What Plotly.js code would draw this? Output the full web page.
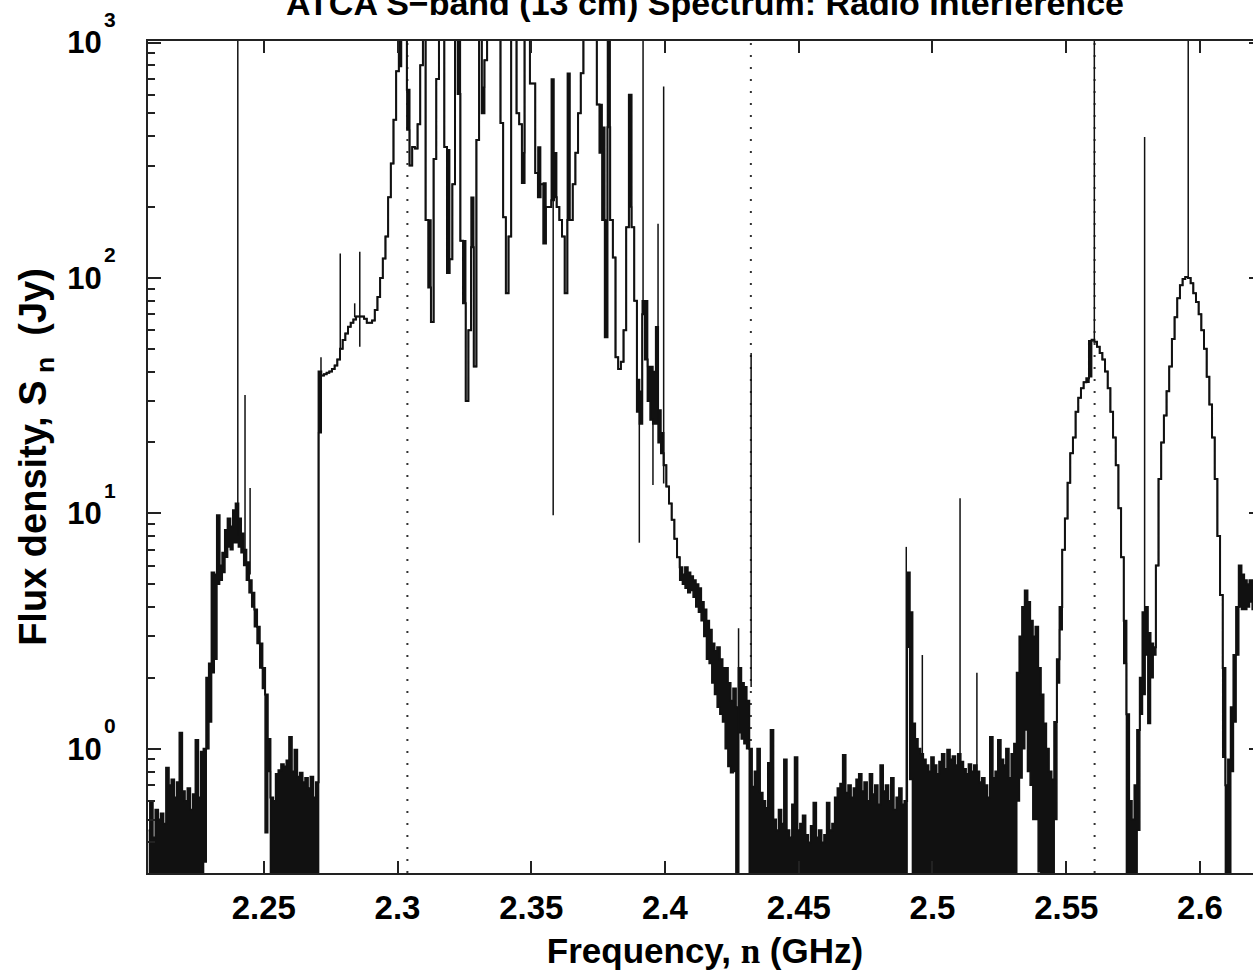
<!DOCTYPE html>
<html><head><meta charset="utf-8">
<script src="https://cdn.plot.ly/plotly-3.0.1.min.js"></script>
<style>html,body{margin:0;padding:0;overflow:hidden;background:#fff;width:1253px;height:976px}#chart{width:1280px;height:976px}</style>
</head><body><div id="chart"></div>
<script>
// Channel grid of the spectrum (GHz)
const chanStartGHz = 2.207;
const chanWidthGHz = 0.001;

// Flux density per channel (Jy), 2.207 ... 2.623 GHz
const flux = [
 0.45,0.6,0.42,0.55,0.5,0.53,0.48,0.83,0.7,0.74,
 0.62,0.72,1.17,0.66,0.6,0.68,0.55,0.64,1.09,0.62,
 0.97,1.0,2.0,2.3,5.6,5.5,9.8,6.0,6.8,8.5,
 9.5,8.8,10.3,11,9.5,8.2,7.0,6.2,5.2,4.6,
 3.9,3.3,2.8,2.2,1.7,1.1,0.62,0.6,0.78,0.81,
 0.86,0.84,0.89,1.12,0.8,0.99,0.76,0.79,0.72,0.75,
 0.68,0.76,0.62,0.72,40,38.5,39,39.5,40,41,
 42.5,45,50,54.5,58,62,64.5,66.5,68.6,68.6,
 68.6,67,64.5,64.5,66,73,83,100,121,150,
 220,306,470,755,2000,2000,2000,630,300,360,
 355,450,800,2000,176,91,65,320,700,2000,
 2000,360,105,120,250,2000,605,144,78,30,
 60,135,42,385,1500,500,840,2000,2000,2000,
 2000,2000,455,181,86,150,2000,2000,500,450,
 253,2000,2000,670,670,279,220,250,140,200,
 200,214,220,200,176,150,86,176,176,250,
 340,500,740,2000,2000,2000,2000,2000,545,340,
 176,56,437,176,122,46,41,44,60,164,
 600,164,80,27,24,70,45,30,25,24,
 24,20,18,16,13,11,9.4,7.8,6.5,5.9,
 5.5,5.9,5.6,5.4,5.2,5.0,4.8,4.2,3.9,3.5,
 3.2,2.8,2.6,2.7,2.4,2.2,2.2,1.9,1.6,1.8,
 1.5,2.2,1.9,1.83,1.6,1.0,0.69,0.8,1.0,0.65,
 0.6,0.56,0.87,1.2,0.5,0.45,0.55,0.48,0.9,0.45,
 0.42,0.58,0.92,0.45,0.48,0.52,0.43,0.4,0.47,0.59,
 0.42,0.45,0.4,0.43,0.59,0.45,0.48,0.62,0.68,0.71,
 0.94,0.65,0.7,0.62,0.68,0.74,0.78,0.66,0.72,0.6,
 0.78,0.64,0.7,0.58,0.85,0.66,0.7,0.6,0.75,0.55,
 0.62,0.68,0.58,0.6,5.6,3.8,1.28,1.1,1.0,0.95,
 0.9,0.85,0.8,0.92,0.85,0.78,0.88,0.95,0.82,0.99,
 0.9,0.93,0.85,0.95,0.88,0.82,0.78,0.86,0.8,0.85,
 0.8,0.72,0.75,0.7,0.62,1.12,0.75,0.8,1.09,0.9,
 0.85,1.0,0.75,0.95,1.05,2.1,3.0,4.0,4.7,4.2,
 3.5,3.0,3.3,2.2,1.7,1.28,1.0,0.8,0.74,1.3,
 2.4,4.0,7.0,9.5,13.5,18,21,27,31,34,
 36,37.5,54,54.6,53.5,51,48,45,40,34,
 27,21,16,10.5,6.5,3.5,1.4,0.6,0.5,0.7,
 1.2,2.0,3.8,4.0,3.1,2.8,2.7,6,14,20,
 26,33,42,55,68,82,93,99,101,100,
 95,86,79,70,60,50,38,29,21,14,
 8,4.5,2.2,0.7,0.9,1.5,2.5,4.0,6.0,5.5,
 5.2,5.0,5.2,5.0,5.3,5.1,5.0
];

// Lower edge of the channel's noise band (Jy); null = no spread
const N = null;
const fluxMin = [
 0.1,0.1,0.1,0.1,0.1,0.1,0.1,0.1,0.1,0.1,
 0.1,0.1,0.1,0.1,0.1,0.1,0.1,0.1,0.1,0.1,
 0.1,0.33,1.0,1.3,2.1,2.4,5.0,5.2,5.6,6.5,
 7.2,7.0,7.5,7.5,7.2,6.8,6.0,5.2,4.6,4.0,
 3.3,2.8,2.2,1.8,0.44,0.8,0.1,0.1,0.1,0.1,
 0.1,0.1,0.1,0.1,0.1,0.1,0.1,0.1,0.1,0.1,
 0.1,0.1,0.1,0.1,22,N,N,N,N,N,
 N,N,N,N,N,N,N,N,N,N,
 N,N,N,N,N,N,N,N,N,N,
 N,N,N,N,790,N,N,425,N,N,
 N,N,N,N,N,176,N,N,N,N,
 N,N,350,N,N,N,2000,N,144,N,
 N,220,N,N,N,645,N,N,N,N,
 N,N,N,N,N,N,N,N,N,N,
 340,N,N,N,N,N,360,N,253,N,
 N,700,340,N,N,N,N,740,N,N,
 N,N,N,N,N,N,N,N,N,545,
 437,176,2000,N,N,N,N,N,N,N,
 200,N,N,37,33,80,80,42,42,40,
 62,27.5,22,N,N,N,N,N,N,5.2,
 5.0,4.8,4.6,4.7,4.4,4.0,3.8,3.5,3.0,2.4,
 2.3,1.9,1.7,1.5,1.4,1.3,1.0,0.84,0.79,0.8,
 0.1,1.17,1.1,1.05,1.0,0.1,0.1,0.1,0.1,0.1,
 0.1,0.1,0.1,0.1,0.1,0.1,0.1,0.1,0.1,0.1,
 0.1,0.1,0.1,0.1,0.1,0.1,0.1,0.1,0.1,0.1,
 0.1,0.1,0.1,0.1,0.1,0.1,0.1,0.1,0.1,0.1,
 0.1,0.1,0.1,0.1,0.1,0.1,0.1,0.1,0.1,0.1,
 0.1,0.1,0.1,0.1,0.1,0.1,0.1,0.1,0.1,0.1,
 0.1,0.1,0.1,0.1,2.7,0.74,0.1,0.1,0.1,0.1,
 0.1,0.1,0.1,0.1,0.1,0.1,0.1,0.1,0.1,0.1,
 0.1,0.1,0.1,0.1,0.1,0.1,0.1,0.1,0.1,0.1,
 0.1,0.1,0.1,0.1,0.1,0.1,0.1,0.1,0.1,0.1,
 0.1,0.1,0.1,0.1,0.1,0.6,0.75,1.0,1.2,0.8,
 0.7,0.5,0.5,0.3,0.1,0.1,0.1,0.1,0.1,0.5,
 1.9,3.2,N,N,N,N,N,N,N,N,
 N,36,38,N,N,N,N,N,N,N,
 N,N,N,N,N,2.3,0.1,0.1,0.1,0.1,
 0.45,1.4,1.7,2.5,1.28,2.0,2.5,N,N,N,
 N,N,N,N,N,N,N,N,N,N,
 N,N,N,N,N,N,N,N,N,N,
 N,N,0.92,0.1,0.1,0.8,1.3,2.5,4.0,3.9,
 3.9,4.0,4.2,3.9,4.1,4.0,3.9
];

// Narrow interference spikes: frequency (GHz), from / to (Jy)
const spikeFreq = [2.2403,2.2430,2.2449,2.2714,2.2786,2.2840,2.2859,2.3582,2.3904,2.3918,2.3955,2.3974,2.3995,2.4275,2.4322,2.4902,2.4962,2.5103,2.5166,2.5605,2.5793,2.5956];
const spikeFrom = [8,7,5.5,22,50,68,51,9.8,7.5,70,13.2,24,13.4,0.1,1.83,0.6,0.9,0.85,0.8,54,3,100];
const spikeTo   = [2000,31.8,12.8,46,127,78,129,700,30,2000,25,170,650,3.25,48,7.2,2.5,11.6,2.1,2000,397,2000];

// Dotted reference frequencies (GHz)
const markFreq = [2.3037, 2.4321, 2.5606];

// Axis ticks
const xTickVals = [2.25,2.3,2.35,2.4,2.45,2.5,2.55,2.6];
const xTickText = ['2.25','2.3','2.35','2.4','2.45','2.5','2.55','2.6'];
const yTickVals = [1,10,100,1000];
const yTickText = ['10','10','10','10'];
const yTickExp  = ['0','1','2','3'];
const yMinorVals = [0.4,0.5,0.6,0.7,0.8,0.9,2,3,4,5,6,7,8,9,20,30,40,50,60,70,80,90,200,300,400,500,600,700,800,900];

const freq = flux.map((_, i) => +(chanStartGHz + i * chanWidthGHz).toFixed(4));
const low = flux.map((v, i) => fluxMin[i] == null ? v : fluxMin[i]);
const spikeX = [], spikeY = [];
spikeFreq.forEach((f, i) => { spikeX.push(f, f, null); spikeY.push(spikeFrom[i], spikeTo[i], null); });

const FONT = 'Liberation Sans, Arial, Helvetica, sans-serif';
const INK = '#111';

const traces = [
  {x: freq, y: low, mode: 'lines', line: {width: 1.5, shape: 'hvh', color: INK}, hoverinfo: 'skip', showlegend: false},
  {x: freq, y: flux, mode: 'lines', fill: 'tonexty', fillcolor: INK, line: {width: 2, shape: 'hvh', color: INK}, showlegend: false},
  {x: spikeX, y: spikeY, mode: 'lines', line: {width: 1.5, color: INK}, connectgaps: false, showlegend: false}
];

const L = 148, R = 1262, W = 1280;
const layout = {
  width: W, height: 976,
  margin: {l: L, r: W - R, t: 41, b: 103},
  paper_bgcolor: '#fff', plot_bgcolor: '#fff',
  showlegend: false,
  font: {family: FONT, color: '#000'},
  title: {
    text: 'ATCA S\u2212band (13 cm) Spectrum: Radio Interference',
    font: {family: FONT, size: 34, color: '#000', weight: 'bold'},
    x: 0.5, xref: 'paper', xanchor: 'center',
    y: 1 - 3 / 976, yref: 'container', yanchor: 'middle'
  },
  xaxis: {
    range: [2.20673, 2.62318],
    tickmode: 'array', tickvals: xTickVals, ticktext: xTickText,
    ticks: 'inside', ticklen: 12, tickwidth: 2, tickcolor: '#222',
    showline: true, linewidth: 2, linecolor: '#222', mirror: 'ticks',
    showgrid: false, zeroline: false, automargin: false,
    tickfont: {family: FONT, size: 33, color: '#000', weight: 'bold'},
    ticklabelstandoff: 4,
    title: {text: 'Frequency, <span style="font-family:Liberation Serif">n</span> (GHz)', font: {family: FONT, size: 35, color: '#000', weight: 'bold'}, standoff: 14}
  },
  yaxis: {
    type: 'log', range: [-0.528, 3.0064],
    tickmode: 'array', tickvals: yTickVals, ticktext: yTickText,
    ticks: 'inside', ticklen: 13, tickwidth: 2, tickcolor: '#222',
    minor: {tickmode: 'array', tickvals: yMinorVals, ticks: 'inside', ticklen: 7, tickwidth: 2, tickcolor: '#222', showgrid: false},
    showline: true, linewidth: 2, linecolor: '#222', mirror: 'ticks',
    showgrid: false, zeroline: false, automargin: false,
    tickfont: {family: FONT, size: 31, color: '#000', weight: 'bold'},
    ticklabelstandoff: 38,
    title: {text: 'Flux density, S<sub> n</sub>  (Jy)', font: {family: FONT, size: 38, color: '#000', weight: 'bold'}, standoff: 9}
  },
  shapes: markFreq.map(f => ({type: 'line', xref: 'x', yref: 'paper', x0: f, x1: f, y0: 0, y1: 1, layer: 'below',
    line: {color: '#333', width: 2, dash: '2px,10px'}})),
  annotations: yTickVals.map((v, i) => ({xref: 'paper', yref: 'y', x: (110 - L) / (R - L), y: Math.log10(v), yshift: 23,
    text: yTickExp[i], showarrow: false, xanchor: 'center', yanchor: 'middle',
    font: {family: FONT, size: 21, color: '#000', weight: 'bold'}}))
};

Plotly.newPlot('chart', traces, layout, {displayModeBar: false, staticPlot: true});
</script>
</body></html>
